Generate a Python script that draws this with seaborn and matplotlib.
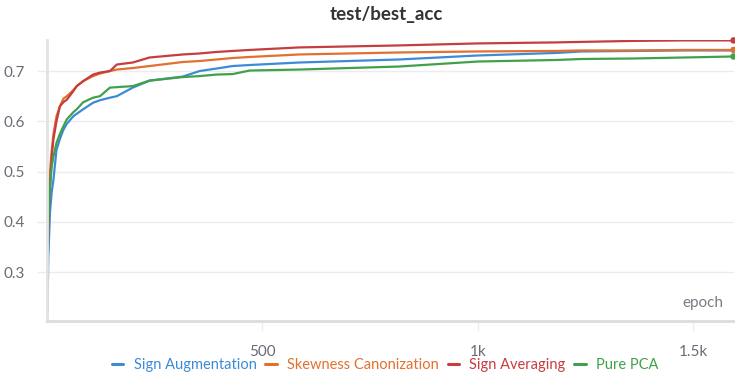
import matplotlib
matplotlib.use("Agg")
import matplotlib.pyplot as plt
import seaborn as sns
import pandas as pd

epochs = [1, 3, 7, 11, 15, 22, 30, 38, 46, 61, 69, 84, 107, 123, 146, 162, 199, 238,
          315, 354, 393, 431, 470, 585, 700, 817, 1000, 1180, 1240, 1360, 1480, 1593]

sign_aug = [0.22, 0.33, 0.42, 0.46, 0.484, 0.543, 0.565, 0.583, 0.595, 0.61, 0.615, 0.624,
            0.637, 0.642, 0.647, 0.65, 0.667, 0.681, 0.689, 0.70, 0.705, 0.71, 0.712, 0.717,
            0.720, 0.723, 0.731, 0.736, 0.739, 0.740, 0.741, 0.741]
skew_can = [0.29, 0.42, 0.50, 0.543, 0.575, 0.61, 0.63, 0.645, 0.65, 0.662, 0.670, 0.68,
            0.69, 0.695, 0.70, 0.703, 0.706, 0.71, 0.718, 0.72, 0.723, 0.726, 0.728, 0.733,
            0.735, 0.737, 0.739, 0.740, 0.741, 0.741, 0.742, 0.742]
sign_avg = [0.27, 0.40, 0.47, 0.53, 0.565, 0.60, 0.63, 0.638, 0.643, 0.660, 0.670, 0.680,
            0.693, 0.697, 0.700, 0.713, 0.717, 0.727, 0.733, 0.735, 0.738, 0.740, 0.742, 0.747,
            0.749, 0.751, 0.755, 0.757, 0.758, 0.760, 0.761, 0.761]
pure_pca = [0.28, 0.40, 0.47, 0.51, 0.53, 0.557, 0.575, 0.59, 0.604, 0.618, 0.624, 0.638,
            0.647, 0.65, 0.667, 0.668, 0.67, 0.681, 0.688, 0.690, 0.693, 0.694, 0.701, 0.703,
            0.706, 0.709, 0.719, 0.722, 0.724, 0.725, 0.727, 0.729]

series_names = ["Sign Augmentation", "Skewness Canonization", "Sign Averaging", "Pure PCA"]
series_values = [sign_aug, skew_can, sign_avg, pure_pca]
colors = ["#3d8ad6", "#e2702f", "#c63d3f", "#3fa24a"]

xticks = [500, 1000, 1500]
xtick_labels = ["500", "1k", "1.5k"]
yticks = [0.3, 0.4, 0.5, 0.6, 0.7]
ytick_labels = ["0.3", "0.4", "0.5", "0.6", "0.7"]

df = pd.concat([pd.DataFrame({"epoch": epochs, "acc": v, "run": n})
                for n, v in zip(series_names, series_values)], ignore_index=True)
last = df.groupby("run", sort=False).tail(1)

sns.set_theme(style="white")
plt.rcParams["font.family"] = ["Lato", "DejaVu Sans"]

fig = plt.figure(figsize=(7.35, 3.73), dpi=100)
ax = fig.add_axes([47/735, 1-321/373, 1-47/735-0.002, (321-40)/373])

palette = dict(zip(series_names, colors))
sns.lineplot(data=df, x="epoch", y="acc", hue="run", palette=palette, ax=ax,
             linewidth=1.6, legend=False, estimator=None)
sns.scatterplot(data=last[last["run"] != "Sign Augmentation"], x="epoch", y="acc",
                hue="run", palette=palette, ax=ax, s=22, legend=False,
                edgecolor="none", zorder=5)
for c in ax.collections:
    c.set_clip_on(False)

ax.set_xlim(0, 1593)
ax.set_ylim(0.2026, 0.7618)
ax.set_xticks(xticks)
ax.set_xticklabels(xtick_labels)
ax.set_yticks(yticks)
ax.set_yticklabels(ytick_labels)
ax.set_xlabel("")
ax.set_ylabel("")

ax.grid(axis="y", color="#ececec", linewidth=1.0)
ax.grid(axis="x", visible=False)
for s in ["top", "right"]:
    ax.spines[s].set_visible(False)
ax.spines["left"].set_color("#e2e2e2")
ax.spines["left"].set_linewidth(2)
ax.spines["bottom"].set_color("#dcdcdc")
ax.spines["bottom"].set_linewidth(2)

ax.tick_params(axis="y", length=7, width=1, color="#ececec", pad=9,
               labelsize=11, labelcolor="#6b6b76", left=True)
ax.tick_params(axis="x", length=7, width=1, color="#ececec", pad=10,
               labelsize=11, labelcolor="#6b6b76", bottom=True)

ax.text(0.955, 0.04, "epoch", transform=ax.transAxes, ha="center", va="bottom",
        fontsize=11, color="#7a7a84")

fig.suptitle("test/best_acc", x=0.525, y=0.985, fontsize=13.5, fontweight="bold",
             color="#333333", va="top")

handles = [plt.Line2D([0], [0], color=c, linewidth=2.2) for c in colors]
fig.legend(handles, series_names, loc="lower center", bbox_to_anchor=(0.524, -0.032),
           ncol=4, frameon=False, handlelength=0.8, handletextpad=0.7,
           columnspacing=0.6, fontsize=10.5, labelcolor=colors)

fig.savefig("out.png", dpi=100)
